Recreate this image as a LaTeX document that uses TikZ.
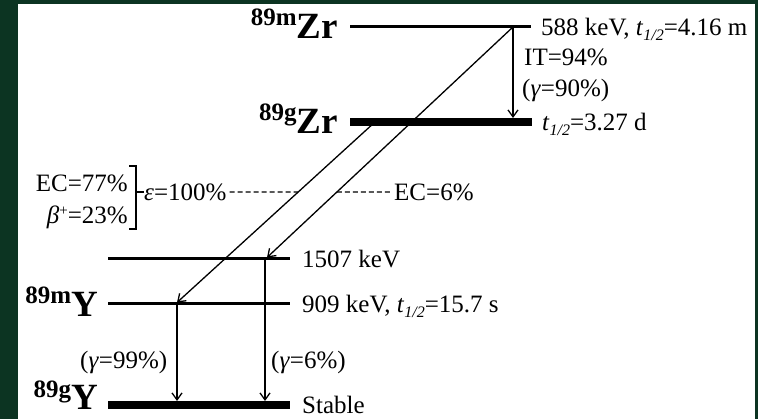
\documentclass[tikz,border=0pt]{standalone}
\usepackage{fontspec}
\setmainfont{Liberation Serif}
\usetikzlibrary{arrows.meta}
\definecolor{bggreen}{RGB}{12,52,34}
\newcommand{\thalf}{\textit{t}\raisebox{-5pt}{\fontsize{16}{16}\selectfont\itshape 1/2}}
\newcommand{\gam}{\textit{γ}}
\newcommand{\epsi}{\textit{ε}}
\newcommand{\bet}{\textit{β}\raisebox{8pt}{\fontsize{15}{15}\selectfont +}}
\newcommand{\isolab}[2]{\raisebox{13pt}{\fontsize{25}{25}\selectfont #1}#2}
\begin{document}
\begin{tikzpicture}[x=1pt,y=-1pt,
  lvl/.style={line width=3pt},
  glvl/.style={line width=7.5pt},
  tr/.style={line width=1.3pt,-{Straight Barb[length=7pt,width=10pt,line width=1.3pt]}},
  lab/.style={font=\fontsize{25}{27}\selectfont, inner sep=0pt, text height=16.5pt, text depth=0pt},
  iso/.style={font=\fontsize{37}{37}\selectfont\bfseries, inner sep=0pt, anchor=base east},
  dsh/.style={line width=1.2pt, dash pattern=on 5pt off 3pt}]
\useasboundingbox (0,0) rectangle (758,419);
\fill[bggreen] (0,0) rectangle (758,419);
\fill[white] (18,4) rectangle (755,419);

% levels
\coordinate (zm-l) at (350,27);  \coordinate (zm-r) at (531,27);
\coordinate (zg-l) at (350,122); \coordinate (zg-r) at (532,122);
\coordinate (y15-l) at (108,259); \coordinate (y15-r) at (290,259);
\coordinate (ym-l) at (108,304); \coordinate (ym-r) at (290,304);
\coordinate (yg-l) at (108,405); \coordinate (yg-r) at (290,405);
\draw[lvl] (zm-l) -- (zm-r);
\draw[glvl] (zg-l) -- (zg-r);
\draw[lvl] (y15-l) -- (y15-r);
\draw[lvl] (ym-l) -- (ym-r);
\draw[glvl] (yg-l) -- (yg-r);

% isotope labels
\node[iso] (zrm) at (338,39) {\isolab{89m}{Zr}};
\node[iso] (zrg) at (338,134) {\isolab{89g}{Zr}};
\node[iso] (ym) at (98,317) {\isolab{89m}{Y}};
\node[iso] (yg) at (98,410) {\isolab{89g}{Y}};

% text labels
\node[lab, anchor=west] (l588) at (541,27) {588 keV, \thalf=4.16 m};
\node[lab, anchor=west] (lit) at (524,57) {IT=94\%};
\node[lab, anchor=west] (lg90) at (522,88) {(\gam=90\%)};
\node[lab, anchor=west] (lt327) at (542,122) {\thalf=3.27 d};
\node[lab, anchor=east] (ec77) at (128,183) {EC=77\%};
\node[lab, anchor=east] (b23) at (128,215) {\bet=23\%};
\node[lab, anchor=west] (eps) at (144,192) {\epsi=100\%};
\node[lab, anchor=west] (ec6) at (394,192) {EC=6\%};
\node[lab, anchor=west] (l1507) at (302,259) {1507 keV};
\node[lab, anchor=west] (l909) at (302,304) {909 keV, \thalf=15.7 s};
\node[lab, anchor=west] (lst) at (302,405) {Stable};
\node[lab, anchor=west] (g99) at (80,360) {(\gam=99\%)};
\node[lab, anchor=west] (g6) at (271,360) {(\gam=6\%)};

% bracket
\draw[line width=1.8pt] (129,166) -- (136,166) -- (136,229) -- (129,229);
\coordinate (brk) at (136,192);
\draw[line width=1.5pt] (brk) -- (eps.west);

% transitions
\coordinate (as) at (513,27);  \coordinate (ae) at (513,118);
\coordinate (bs) at (513,27);  \coordinate (be) at (267,257.5);
\coordinate (cs) at (375,122); \coordinate (ce) at (177,302.5);
\coordinate (ds) at (177,304); \coordinate (de) at (177,401);
\coordinate (es) at (265,259); \coordinate (ee) at (265,401);
\draw[tr] (as) -- (ae);
\draw[tr] (bs) -- (be);
\draw[tr] (cs) -- (ce);
\draw[tr] (ds) -- (de);
\draw[tr] (es) -- (ee);

% dashed leader lines
\coordinate (dL) at ([xshift=3pt]eps.east);
\coordinate (dR) at ([xshift=-2pt]ec6.west);
\coordinate (ib) at (intersection of cs--ce and dL--dR);
\coordinate (ia) at (intersection of bs--be and dL--dR);
\draw[dsh] (dL) -- (ib);
\draw[dsh] (ia) -- (dR);
\end{tikzpicture}
\end{document}
